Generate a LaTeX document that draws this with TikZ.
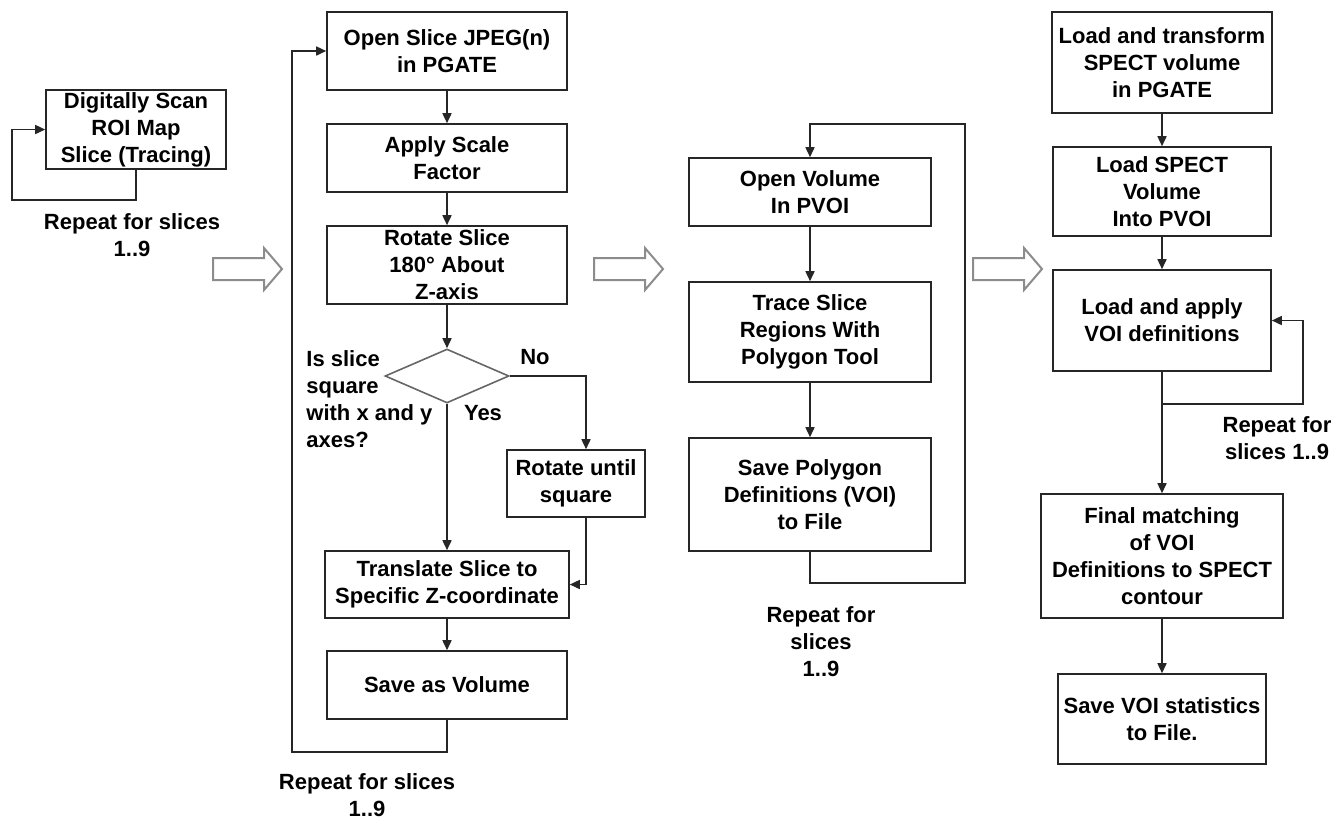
\documentclass[tikz,border=0pt]{standalone}
\usepackage{fontspec}
\setmainfont{Liberation Sans}
\usetikzlibrary{shapes.geometric,arrows.meta}

\begin{document}
\begin{tikzpicture}[x=0.5pt, y=-0.5pt,
  font=\fontsize{11}{13.5}\selectfont\bfseries,
  box/.style = {draw=black!85, line width=0.8pt, align=center, inner xsep=1pt, inner ysep=0.5pt},
  cond/.style = {draw=black!60, line width=0.8pt, diamond, inner sep=0pt, minimum width=62pt, minimum height=27pt},
  arr/.style = {draw=black!85, line width=0.8pt, -{Triangle[length=5pt,width=4.5pt]}},
  note/.style = {align=center, inner sep=0pt},
  hollow/.style = {draw=black!45, fill=white, line width=1pt}]
\useasboundingbox (0,0) rectangle (1342,821);

% tracing
\node[box, minimum width=90pt, minimum height=39.5pt] (a) at (136,129.5) {Digitally Scan\\ROI Map\\Slice (Tracing)};
\node[note] (rpa) at (132,235) {Repeat for slices\\1..9};

% slices into volume
\node[box, minimum width=120pt, minimum height=39pt] (b1) at (447,51) {Open Slice JPEG(n)\\in PGATE};
\node[box, minimum width=120pt, minimum height=34pt] (b2) at (447,158) {Apply Scale\\Factor};
\node[box, minimum width=120pt, minimum height=39pt] (b3) at (447,265) {Rotate Slice\\180° About\\Z-axis};
\node[cond] (dia) at (447,376) {};
\node[note, align=left, anchor=west] (qs) at (306,399) {Is slice\\square\\with x and y\\axes?};
\node[note] (yes) at (483,413) {Yes};
\node[note] (no) at (535,357) {No};
\node[box, minimum width=69pt, minimum height=33.5pt] (b4) at (576,483.5) {Rotate until\\square};
\node[box, minimum width=122pt, minimum height=33.5pt] (b5) at (447,584.5) {Translate Slice to\\Specific Z-coordinate};
\node[box, minimum width=120pt, minimum height=34pt] (b6) at (447,685) {Save as Volume};
\node[note] (rpb) at (367,795) {Repeat for slices\\1..9};

% polygons
\node[box, minimum width=121pt, minimum height=34pt] (m1) at (810,192) {Open Volume\\In PVOI};
\node[box, minimum width=121pt, minimum height=50pt] (m2) at (810,332) {Trace Slice\\Regions With\\Polygon Tool};
\node[box, minimum width=121pt, minimum height=56.5pt] (m3) at (810,494.5) {Save Polygon\\Definitions (VOI)\\to File};
\node[note] (rpm) at (821,642) {Repeat for\\slices\\1..9};

% SPECT
\node[box, minimum width=110pt, minimum height=50.5pt] (r1) at (1162,62.5) {Load and transform\\SPECT volume\\in PGATE};
\node[box, minimum width=109pt, minimum height=44.5pt] (r2) at (1162,191.5) {Load SPECT\\Volume\\Into PVOI};
\node[box, minimum width=109pt, minimum height=50.5pt] (r3) at (1162,320.5) {Load and apply\\VOI definitions};
\node[note] (rpr) at (1277,438.5) {Repeat for\\slices 1..9};
\node[box, minimum width=121pt, minimum height=62pt] (r4) at (1162,556) {Final matching\\of VOI\\Definitions to SPECT\\contour};
\node[box, minimum width=104pt, minimum height=45pt] (r5) at (1162,719) {Save VOI statistics\\to File.};

\coordinate (la) at (12,200);
\coordinate (lb) at (292,752);
\coordinate (lm) at (965,583);
\coordinate (lm2) at (965,124);
\coordinate (lr) at (1303,404);

\draw[arr] (a.south) |- (la) |- (a.west);

\draw[arr] (b1) -- (b2);
\draw[arr] (b2) -- (b3);
\draw[arr] (b3) -- (dia);
\draw[arr] (dia.south) -- (b5.north);
\draw[arr] (dia.east) -| ([xshift=5pt]b4.north);
\draw[arr] ([xshift=5pt]b4.south) |- (b5.east);
\draw[arr] (b5) -- (b6);
\draw[arr] (b6.south) |- (lb) |- (b1.west);

\draw[arr] (m1) -- (m2);
\draw[arr] (m2) -- (m3);
\draw[arr] (m3.south) |- (lm) -- (lm2) -| (m1.north);

\draw[arr] (r1) -- (r2);
\draw[arr] (r2) -- (r3);
\draw[arr] (r3.south) |- (lr) |- (r3.east);
\draw[arr] (r3) -- (r4);
\draw[arr] (r4) -- (r5);

% big arrows between stages
\foreach \t in {282,663,1042}
  \draw[hollow] (\t-69,258) -- (\t-18,258) -- (\t-18,248) -- (\t,269) -- (\t-18,290) -- (\t-18,280) -- (\t-69,280) -- cycle;
\end{tikzpicture}
\end{document}
